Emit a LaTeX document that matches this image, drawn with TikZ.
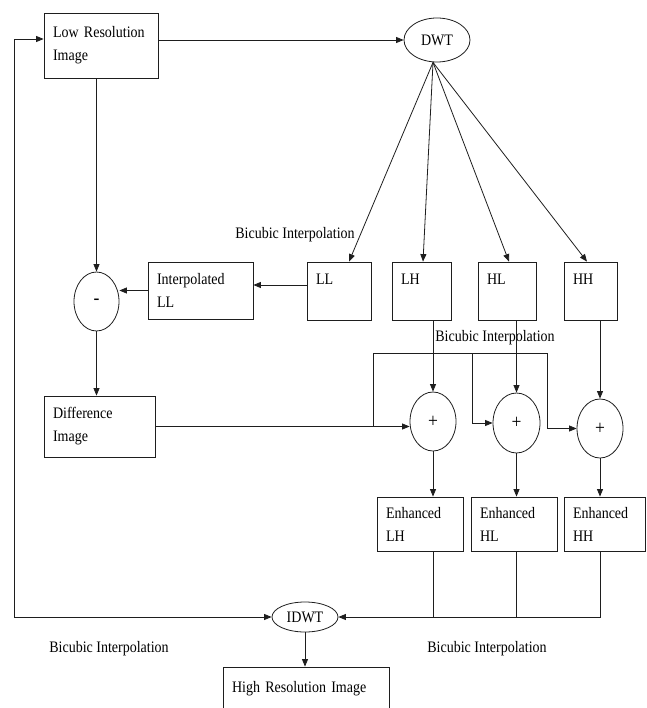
\documentclass[tikz,border=0pt]{standalone}
\usepackage{fontspec}
\setmainfont{Liberation Serif}[FakeStretch=0.875]
\usepackage{xcolor}
\usepackage{tikz}
\definecolor{linegray}{RGB}{30, 30, 30}
\usetikzlibrary{shapes.geometric, arrows.meta}

\tikzset{
  blk/.style={draw=linegray, line width=0.8pt, rectangle, align=left,
              inner xsep=9pt, inner ysep=0pt, font=\fontsize{16}{23}\selectfont},
  oval/.style={draw=linegray, line width=0.8pt, ellipse, inner sep=0pt,
               font=\fontsize{16}{18}\selectfont},
  opr/.style={oval, font=\fontsize{20}{22}\selectfont},
  conn/.style={draw=linegray, line width=0.8pt},
  arr/.style={conn, -{Triangle[length=7.5pt, width=6pt]}},
  lbl/.style={font=\fontsize{16}{18}\selectfont}
}

\begin{document}
\begin{tikzpicture}[x=1pt, y=-1pt]
        \useasboundingbox (0,0) rectangle (646,708);

        % input and DWT
        \node[blk, text width=96pt, minimum height=65pt] (lowres) at (101,45.5) {Low Resolution\\Image};
        \node[oval, minimum width=66pt, minimum height=44pt] (dwt) at (437,40) {DWT};

        % sub-bands
        \node[blk, text width=46pt, minimum height=58pt] (ll) at (339,291) {LL\\\mbox{}};
        \node[blk, text width=41pt, minimum height=58pt] (lh) at (421.5,291) {LH\\\mbox{}};
        \node[blk, text width=40pt, minimum height=58pt] (hl) at (507,291) {HL\\\mbox{}};
        \node[blk, text width=35pt, minimum height=58pt] (hh) at (590.5,291) {HH\\\mbox{}};

        % difference branch
        \node[blk, text width=87pt, minimum height=57pt] (interp) at (200.5,290.5) {Interpolated\\LL};
        \node[opr, minimum width=45pt, minimum height=59pt] (minus) at (96.5,301.5) {-};
        \node[blk, text width=93pt, minimum height=61pt] (diff) at (99.5,426.5) {Difference\\Image};

        % adders
        \node[opr, minimum width=46pt, minimum height=59pt] (plus1) at (433,421.5) {+};
        \node[opr, minimum width=47pt, minimum height=60pt] (plus2) at (516.5,423) {+};
        \node[opr, minimum width=46pt, minimum height=59pt] (plus3) at (600,428.5) {+};

        % enhanced bands
        \node[blk, text width=68pt, minimum height=54pt] (elh) at (420,524) {Enhanced\\LH};
        \node[blk, text width=68pt, minimum height=54pt] (ehl) at (514,524) {Enhanced\\HL};
        \node[blk, text width=63pt, minimum height=54pt] (ehh) at (604.5,524) {Enhanced\\HH};

        % output
        \node[oval, minimum width=66pt, minimum height=30pt] (idwt) at (305,617) {IDWT};
        \node[blk, text width=148pt, minimum height=44pt] (hires) at (306,689) {High Resolution Image};

        % labels
        \node[lbl] (lbltop) at (295,235) {Bicubic Interpolation};
        \node[lbl] (lblmid) at (495,338) {Bicubic Interpolation};
        \node[lbl] (lblleft) at (109,649) {Bicubic Interpolation};
        \node[lbl] (lblright) at (487,649) {Bicubic Interpolation};

        % helper points
        \coordinate (fb) at (14,39);
        \coordinate (bus) at (373,353);
        \coordinate (j1) at (472,353);
        \coordinate (j2) at (547,353);

        % connectors
        \draw[arr, {Triangle[length=7.5pt, width=6pt]}-{Triangle[length=7.5pt, width=6pt]}]
              (idwt.west) -| (fb) -- (fb -| lowres.west);
        \draw[arr] (lowres.east |- dwt) -- (dwt.west);
        \draw[arr] ([xshift=-4pt]dwt.south) -- ([xshift=10pt]ll.north);
        \draw[arr] ([xshift=-4pt]dwt.south) -- ([xshift=1.5pt]lh.north);
        \draw[arr] ([xshift=-4pt]dwt.south) -- ([xshift=2pt]hl.north);
        \draw[arr] ([xshift=-4pt]dwt.south) -- ([xshift=-3.5pt]hh.north);
        \draw[arr] (minus.north |- lowres.south) -- (minus.north);
        \draw[arr] ([yshift=6pt]ll.west) -- ([yshift=6pt]ll.west -| interp.east);
        \draw[arr] (interp.west) -- (interp.west -| minus.east);
        \draw[arr] (minus.south) -- (minus.south |- diff.north);
        \draw[arr] (diff.east) -- (diff.east -| plus1.west);
        \draw[conn] (bus |- diff.east) -- (bus) -- (j2);
        \draw[arr] (j1) |- (plus2.west);
        \draw[arr] (j2) |- (plus3.west);
        \draw[arr] (plus1.north |- lh.south) -- (plus1.north);
        \draw[arr] (plus2.north |- hl.south) -- (plus2.north);
        \draw[arr] (plus3.north |- hh.south) -- (plus3.north);
        \draw[arr] (plus1.south) -- (plus1.south |- elh.north);
        \draw[arr] (plus2.south) -- (plus2.south |- ehl.north);
        \draw[arr] (plus3.south) -- (plus3.south |- ehh.north);
        \draw[conn] (plus1 |- elh.south) -- (plus1 |- idwt);
        \draw[conn] (plus2 |- ehl.south) -- (plus2 |- idwt);
        \draw[arr] (plus3 |- ehh.south) |- (idwt.east);
        \draw[arr] (idwt.south) -- (idwt.south |- hires.north);
    \end{tikzpicture}
\end{document}
